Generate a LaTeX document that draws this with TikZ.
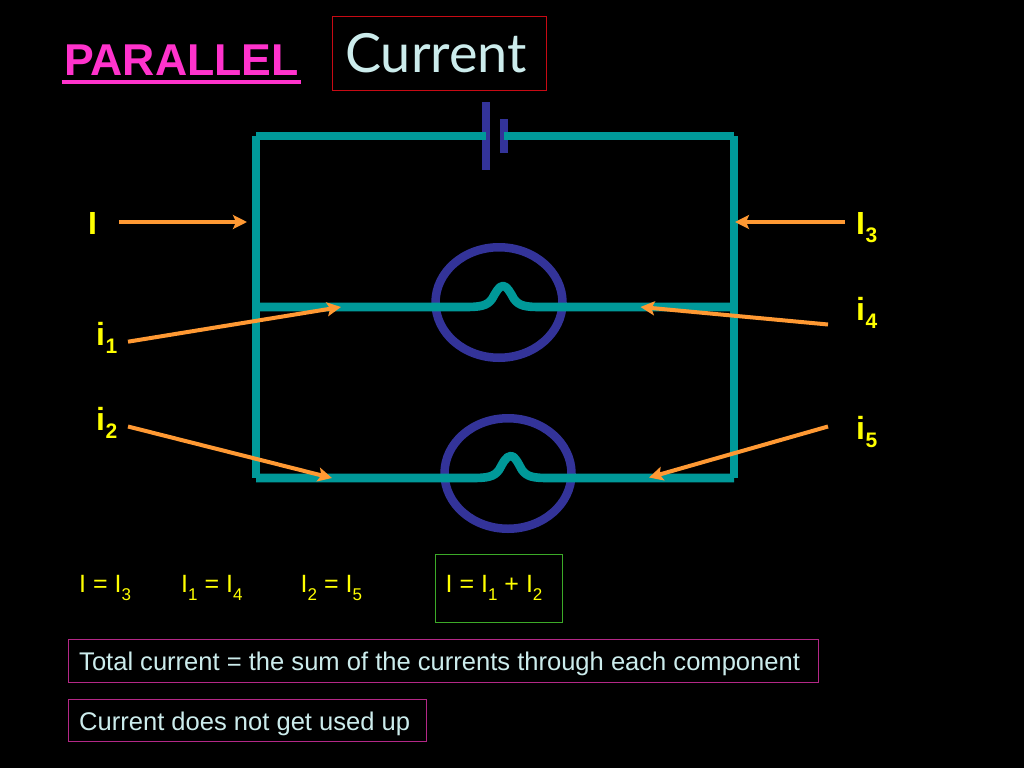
\documentclass[tikz,border=0pt]{standalone}
\usepackage{fontspec}
\setmainfont{Liberation Sans}
\newfontfamily\handfont{Lato}
\usetikzlibrary{arrows.meta,shapes.geometric}
\definecolor{wirec}{RGB}{0,153,153}
\definecolor{bluec}{RGB}{51,51,153}
\definecolor{arrowc}{RGB}{255,153,51}
\definecolor{pinkc}{RGB}{255,51,204}
\definecolor{paleblue}{RGB}{204,236,236}
\definecolor{yel}{RGB}{255,255,0}
\definecolor{boxmag}{RGB}{180,40,135}
\definecolor{boxgreen}{RGB}{60,170,40}
\definecolor{boxred}{RGB}{200,10,20}
\newcommand{\bigsub}[1]{\kern0.6pt\raisebox{-8.5pt}{\fontsize{21}{21}\selectfont #1}}
\newcommand{\eqsub}[1]{\raisebox{-7.8pt}{\fontsize{17}{17}\selectfont #1}}
\tikzset{x=1pt,y=-1pt,
 wire/.style={draw=wirec,line width=8.6pt},
 bulb/.style={draw=bluec,line width=8.5pt,ellipse,inner sep=0pt,minimum width=127pt,minimum height=110.5pt},
 cell/.style={draw=bluec,line width=8.6pt},
 flow/.style={draw=arrowc,line width=4pt,-{Stealth[length=14pt,width=14pt,inset=3pt]}},
 lab/.style={text=yel,font=\fontsize{32}{32}\selectfont\bfseries,anchor=base west,inner sep=0pt},
 eq/.style={text=yel,font=\fontsize{25}{25}\selectfont,anchor=base west,inner sep=0pt},
 notebox/.style={draw=boxmag,line width=1.2pt,inner sep=0pt,anchor=north west},
 notetext/.style={text=paleblue,font=\fontsize{25.55}{25.55}\selectfont,anchor=base west,inner sep=0pt},
}
\begin{document}
\begin{tikzpicture}
\fill[black] (0,0) rectangle (1024,768);
\useasboundingbox (0,0) rectangle (1024,768);
% title
\node[text=pinkc,font=\fontsize{44.6}{44.6}\selectfont\bfseries,anchor=base,inner sep=0pt] (title) at (181.5,75) {PARALLEL};
\coordinate (ula) at (61.5,82); \coordinate (ulb) at (301,82);
\draw[pinkc,line width=4.5pt] (ula) -- (ulb);
\node[draw=boxred,line width=1.3pt,minimum width=214.5pt,minimum height=74pt,inner sep=0pt] (curbox) at (439.5,53.5) {};
\node[text=paleblue,font=\handfont\fontsize{54}{54}\selectfont,anchor=base,inner sep=0pt] (cur) at (436,72) {Current};
% circuit coordinates
\coordinate (tl) at (256,136); \coordinate (tr) at (734,136);
\coordinate (ml) at (256,307); \coordinate (mr) at (734,307);
\coordinate (bl) at (256,478); \coordinate (br) at (734,478);
\coordinate (cellaT) at (486,102); \coordinate (cellaB) at (486,170);
\coordinate (cellbT) at (504,119); \coordinate (cellbB) at (504,153);
\coordinate (wa) at (486,136); \coordinate (wb) at (504,136);
\draw[cell] (cellaT) -- (cellaB);
\draw[cell] (cellbT) -- (cellbB);
% bulbs
\node[bulb] (bulbA) at (499,302.5) {};
\node[bulb] (bulbB) at (508,473.5) {};
% wires
\draw[wire] (tl) -- (wa);
\draw[wire] (wb) -- (tr);
\draw[wire] (tl) -- (bl);
\draw[wire] (tr) -- (br);
\draw[wire,line join=round] (ml) -- (465,307) .. controls (480,307) and (487,306) .. (492,299)
  .. controls (496,292) and (499,286) .. (503,286)
  .. controls (507,286) and (510,292) .. (514,299)
  .. controls (519,306) and (526,307) .. (540,307) -- (mr);
\draw[wire,line join=round] (bl) -- (472,478) .. controls (487,478) and (494,477) .. (499,470)
  .. controls (503,463) and (506,456) .. (511,456)
  .. controls (515,456) and (518,463) .. (522,470)
  .. controls (527,477) and (534,478) .. (548,478) -- (br);
% arrows
\coordinate (a1s) at (119,222);   \coordinate (a1e) at (247,222);
\coordinate (a2s) at (128,341.7); \coordinate (a2e) at (341,307);
\coordinate (a3s) at (128,426.5); \coordinate (a3e) at (332,478);
\coordinate (a4s) at (845,222);   \coordinate (a4e) at (735,222);
\coordinate (a5s) at (828,324.5); \coordinate (a5e) at (640.5,307);
\coordinate (a6s) at (828,426.5); \coordinate (a6e) at (649,477.5);
\foreach \p/\q in {a1s/a1e,a2s/a2e,a3s/a3e,a4s/a4e,a5s/a5e,a6s/a6e}
  \draw[flow] (\p) -- (\q);
% current labels
\node[lab] (li)  at (88,234)  {I};
\node[lab] (li1) at (96,345)  {i\bigsub{1}};
\node[lab] (li2) at (96,430)  {i\bigsub{2}};
\node[lab] (li3) at (856,234) {I\bigsub{3}};
\node[lab] (li4) at (856,320) {i\bigsub{4}};
\node[lab] (li5) at (856,439) {i\bigsub{5}};
% equations
\node[eq] (e1) at (79,592.3)  {I = I\eqsub{3}};
\node[eq] (e2) at (181,592.3) {I\eqsub{1} = I\eqsub{4}};
\node[eq] (e3) at (300.5,592.3) {I\eqsub{2} = I\eqsub{5}};
\node[draw=boxgreen,line width=1.2pt,minimum width=127.5pt,minimum height=67.5pt,inner sep=0pt,anchor=north west] (gbox) at (434.5,554) {};
\node[eq] (e4) at (445.5,592.3) {I = I\eqsub{1} + I\eqsub{2}};
% notes
\node[notebox,minimum width=750pt,minimum height=42.5pt] (nb1) at (68,639) {};
\node[notetext] (n1) at (79,670) {Total current = the sum of the currents through each component};
\node[notebox,minimum width=357.5pt,minimum height=42pt] (nb2) at (68,699) {};
\node[notetext] (n2) at (79,730) {Current does not get used up};
\end{tikzpicture}
\end{document}
